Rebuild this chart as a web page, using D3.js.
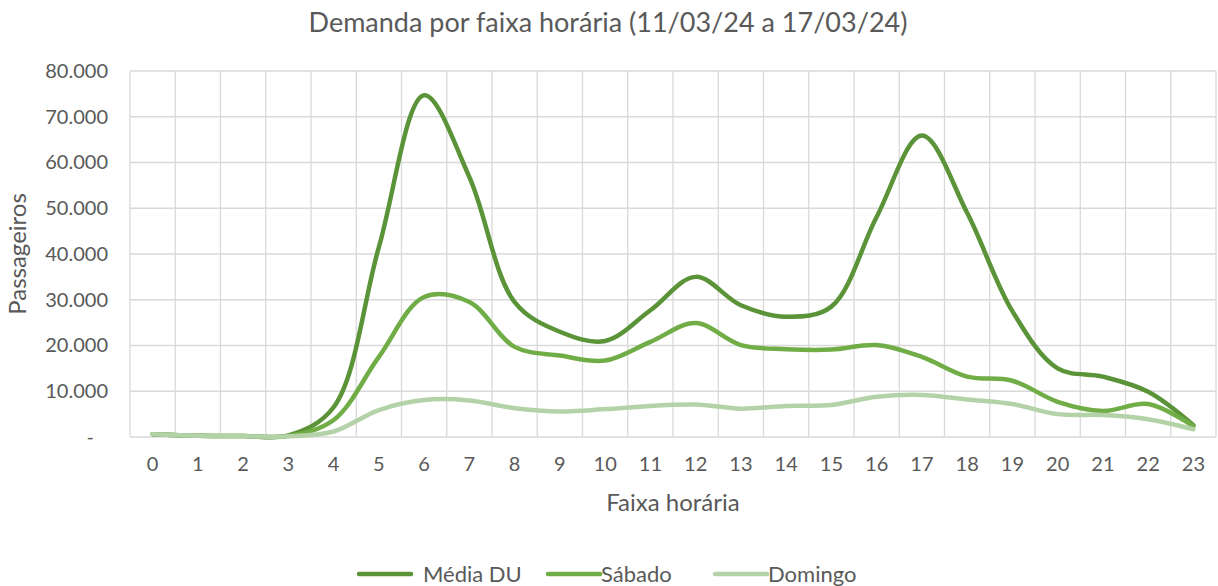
<!DOCTYPE html>
<html>
<head>
<meta charset="utf-8">
<script src="https://cdn.jsdelivr.net/npm/d3@7"></script>
<style>
  body { margin: 0; background: #fff; }
  text { font-family: Lato, "Open Sans", sans-serif; fill: #595959; }
</style>
</head>
<body>
<script>
"use strict";

// data
let hours = ['0','1','2','3','4','5','6','7','8','9','10','11','12','13','14','15','16','17','18','19','20','21','22','23'];
let mediaDU = [600, 250, 200, 350, 6500, 41500, 74700, 56800, 29500, 23000, 21000, 27700, 35000, 28800, 26300, 28500, 48100, 65900, 49000, 27500, 15000, 13200, 9900, 2600];
let sabado  = [600, 250, 200, 250, 3700, 17500, 30600, 29500, 19700, 17800, 16700, 20800, 24900, 20100, 19200, 19100, 20100, 17500, 13200, 12300, 7700, 5700, 7200, 2400];
let domingo = [600, 250, 150, 150, 1200, 5900, 8100, 8000, 6300, 5600, 6100, 6800, 7100, 6200, 6800, 7000, 8800, 9200, 8200, 7200, 5000, 4800, 3900, 1700];
let yTicks = [0, 10000, 20000, 30000, 40000, 50000, 60000, 70000, 80000];
let seriesNames = ['Média DU', 'Sábado', 'Domingo'];
let seriesColors = ['#5b9338', '#70ad47', '#b4d2a8'];

(function() {

let W = 1218, H = 586;
let margins = {top: 71, right: 2, bottom: 149, left: 130};
let width = W - margins.left - margins.right;
let height = H - margins.top - margins.bottom;

let svg = d3.select('body')
    .append('svg')
    .attr('width', W)
    .attr('height', H);

let g = svg.append('g')
    .attr('transform', 'translate(' + margins.left + ',' + margins.top + ')');

let x = d3.scaleBand().domain(hours).range([0, width]).padding(0);
let y = d3.scaleLinear().domain([0, 80000]).range([height, 0]);

let pt = d3.formatLocale({decimal: ',', thousands: '.', grouping: [3], currency: ['R$', '']});
let fmt = pt.format(',.0f');

// horizontal gridlines
g.selectAll('.hgrid')
    .data(yTicks)
    .enter()
    .append('line')
    .attr('x1', 0).attr('x2', width)
    .attr('y1', d => y(d)).attr('y2', d => y(d))
    .attr('stroke', '#d9d9d9')
    .attr('stroke-width', 1.3);

// vertical gridlines at category boundaries
let bounds = hours.map(h => x(h)).concat([width]);
g.selectAll('.vgrid')
    .data(bounds)
    .enter()
    .append('line')
    .attr('x1', d => d).attr('x2', d => d)
    .attr('y1', 0).attr('y2', height)
    .attr('stroke', '#d9d9d9')
    .attr('stroke-width', 1.3);

// y axis labels
let yAxis = g.append('g')
    .call(d3.axisLeft(y).tickValues(yTicks).tickSize(0).tickPadding(22)
        .tickFormat(d => d === 0 ? '-' : fmt(d)));
yAxis.select('.domain').remove();
yAxis.selectAll('text')
    .style('font-size', '20px')
    .attr('dx', d => d === 0 ? -14 : 0);

// x axis labels
let xAxis = g.append('g')
    .attr('transform', 'translate(0,' + height + ')')
    .call(d3.axisBottom(x).tickSize(0).tickPadding(20));
xAxis.select('.domain').remove();
xAxis.selectAll('text').style('font-size', '20px');

// lines
let line = d3.line()
    .x((d, i) => x(hours[i]) + x.bandwidth() / 2)
    .y(d => y(d))
    .curve(d3.curveCatmullRom.alpha(0.5));

let allSeries = [mediaDU, sabado, domingo];
g.selectAll('.series')
    .data(allSeries)
    .enter()
    .append('path')
    .attr('class', 'series')
    .attr('d', d => line(d))
    .attr('fill', 'none')
    .attr('stroke', (d, i) => seriesColors[i])
    .attr('stroke-width', 4.5)
    .attr('stroke-linecap', 'round')
    .attr('stroke-linejoin', 'round');

// title and axis titles
svg.append('text')
    .attr('x', 608).attr('y', 32)
    .attr('text-anchor', 'middle')
    .style('font-size', '27px')
    .text('Demanda por faixa horária (11/03/24 a 17/03/24)');

svg.append('text')
    .attr('x', margins.left + width / 2).attr('y', 511)
    .attr('text-anchor', 'middle')
    .style('font-size', '24px')
    .text('Faixa horária');

svg.append('text')
    .attr('transform', 'translate(26,' + (margins.top + height / 2) + ') rotate(-90)')
    .attr('text-anchor', 'middle')
    .style('font-size', '24px')
    .text('Passageiros');

// legend
let legendX = [359, 548, 715];
let legend = svg.selectAll('.legend')
    .data(seriesNames)
    .enter()
    .append('g')
    .attr('transform', (d, i) => 'translate(' + legendX[i] + ',574)');
legend.append('line')
    .attr('x1', 0).attr('x2', 52)
    .attr('stroke', (d, i) => seriesColors[i])
    .attr('stroke-width', 4.5)
    .attr('stroke-linecap', 'round');
legend.append('text')
    .attr('x', (d, i) => i === 0 ? 64 : 53)
    .attr('dy', '0.35em')
    .style('font-size', '22px')
    .text(d => d);

})();
</script>
</body>
</html>
